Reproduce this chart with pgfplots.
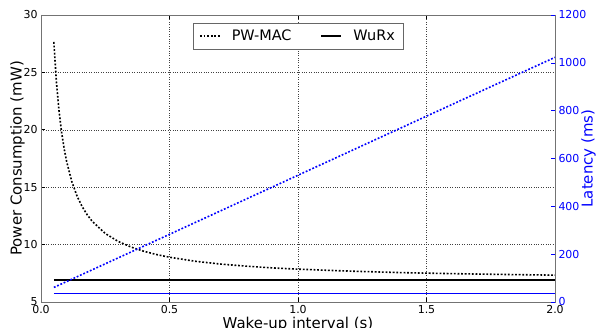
\documentclass[border=0pt]{standalone}
\usepackage{fontspec}
\setmainfont{DejaVu Sans}
\usepackage{pgfplots}
\pgfplotsset{compat=1.18}
\definecolor{mblue}{RGB}{0,0,255}
\begin{document}
\begin{tikzpicture}
\begin{axis}[
  name=ax1,
  scale only axis, width=514bp, height=287bp,
  xmin=0, xmax=2, ymin=5, ymax=30,
  xtick={0,0.5,1,1.5,2}, ytick={5,10,15,20,25,30},
  xticklabel style={/pgf/number format/.cd, fixed, fixed zerofill, precision=1},
  /pgf/number format/assume math mode=true,
  ytick pos=left,
  tick align=inside,
  major tick length=4bp,
  grid=major,
  grid style={dotted, black!75, line width=0.5bp},
  axis line style={black!55, line width=0.8bp},
  tick style={black, line width=0.6bp},
  xlabel={Wake-up interval (s)},
  ylabel={Power Consumption (mW)},
  label style={font=\fontsize{15}{17}\selectfont},
  tick label style={font=\fontsize{11}{13}\selectfont},
  xlabel style={yshift=4bp},
  ylabel shift=-8bp,
  legend style={at={(0.5,0.973)}, anchor=north, legend columns=2, draw=black!60,
    font=\fontsize{14.5}{16}\selectfont, inner xsep=6bp, inner ysep=5bp,
    /tikz/every odd column/.append style={column sep=9bp},
    /tikz/every even column/.append style={column sep=27bp}},
  legend image code/.code={\draw[#1] (0bp,0bp) -- (20bp,0bp);},
  legend cell align=left,
]
\addplot[black, line width=1.6bp, dash pattern=on 1.8bp off 1.8bp] coordinates {
(0.05,27.65) (0.06,24.15) (0.07,21.68) (0.08,19.81) (0.09,18.37) (0.10,17.21)
(0.12,15.48) (0.14,14.24) (0.16,13.31) (0.18,12.59) (0.20,12.01) (0.25,10.97)
(0.30,10.28) (0.35,9.79) (0.40,9.42) (0.45,9.13) (0.50,8.90) (0.60,8.55)
(0.70,8.30) (0.80,8.12) (0.90,7.97) (1.00,7.86) (1.20,7.69) (1.40,7.56)
(1.60,7.47) (1.80,7.40) (2.00,7.34)};
\addlegendentry{PW-MAC}
\addplot[black, line width=1.8bp] coordinates {(0.05,6.92) (2.0,6.92)};
\addlegendentry{WuRx}
\end{axis}
\begin{axis}[
  scale only axis, width=514bp, height=287bp,
  xmin=0, xmax=2, ymin=0, ymax=1200,
  axis x line=none, axis y line*=right,
  ytick={0,200,400,600,800,1000,1200},
  /pgf/number format/assume math mode=true,
  /pgf/number format/1000 sep={},
  tick align=inside,
  major tick length=4bp,
  axis line style={black!55, line width=0.8bp},
  ytick style={mblue, line width=0.6bp},
  yticklabel style={mblue, font=\fontsize{11}{13}\selectfont},
  ylabel={Latency (ms)},
  ylabel shift=-12bp,
  ylabel style={mblue, font=\fontsize{15}{17}\selectfont},
]
\addplot[mblue, line width=1.6bp, dash pattern=on 1.8bp off 1.8bp] coordinates {
(0.05,61) (0.5,283) (1.0,530) (1.5,777) (2.0,1023)};
\addplot[mblue, line width=1.5bp] coordinates {(0.05,35) (2.0,35)};
\end{axis}
\pgfresetboundingbox
\path ([shift={(-41bp,-26bp)}]ax1.south west) rectangle ([shift={(46bp,15bp)}]ax1.north east);
\end{tikzpicture}
\end{document}
